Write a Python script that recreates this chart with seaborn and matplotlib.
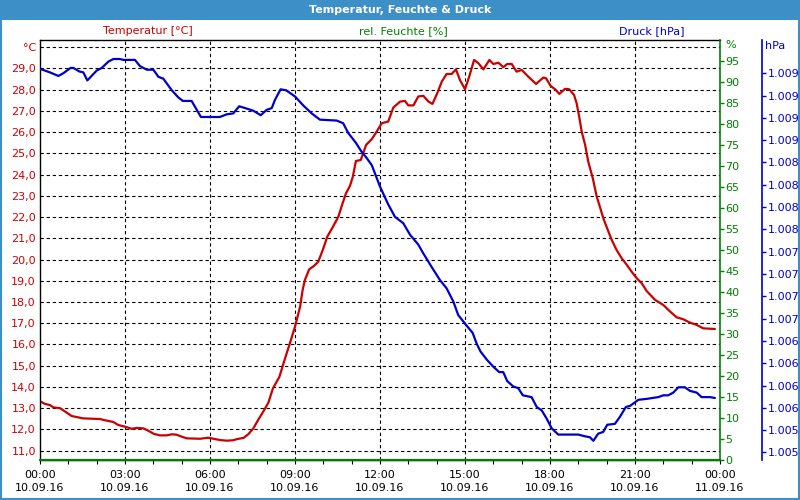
import matplotlib
matplotlib.use("Agg")
import matplotlib.pyplot as plt
from matplotlib.ticker import FixedLocator, FixedFormatter, FuncFormatter
from matplotlib.patches import Rectangle
import seaborn as sns

# ---------------- data ----------------
temp_hours = [0.02, 0.18, 0.35, 0.47, 0.71, 0.94, 1.12, 1.35, 1.53, 2.12, 2.23, 2.59, 2.76, 3.00,
              3.24, 3.41, 3.65, 3.82, 4.02, 4.24, 4.47, 4.65, 4.82, 5.00, 5.18, 5.65, 5.94, 6.12,
              6.35, 6.59, 6.82, 6.94, 7.18, 7.35, 7.53, 7.70, 7.88, 8.06, 8.22, 8.45, 8.65, 8.82,
              9.00, 9.18, 9.27, 9.35, 9.50, 9.67, 9.82, 9.98, 10.14, 10.33, 10.53, 10.68, 10.80,
              10.94, 11.04, 11.15, 11.32, 11.51, 11.71, 11.88, 12.06, 12.29, 12.47, 12.71, 12.88,
              13.00, 13.18, 13.35, 13.53, 13.71, 13.85, 14.02, 14.18, 14.35, 14.53, 14.68, 14.82,
              15.00, 15.15, 15.32, 15.47, 15.65, 15.86, 16.00, 16.18, 16.35, 16.49, 16.65, 16.82,
              17.00, 17.23, 17.51, 17.76, 17.86, 18.02, 18.18, 18.33, 18.53, 18.68, 18.85, 18.94,
              19.03, 19.12, 19.24, 19.35, 19.51, 19.65, 19.76, 19.88, 20.04, 20.18, 20.35, 20.53,
              20.71, 20.88, 21.06, 21.24, 21.41, 21.71, 22.00, 22.24, 22.47, 22.70, 22.94, 23.18,
              23.41, 23.82]
temp_c = [13.31, 13.20, 13.15, 13.04, 13.00, 12.79, 12.63, 12.57, 12.52, 12.49, 12.45, 12.35, 12.21,
          12.13, 12.03, 12.07, 12.05, 11.94, 11.79, 11.72, 11.72, 11.77, 11.75, 11.66, 11.58, 11.56,
          11.61, 11.56, 11.50, 11.47, 11.49, 11.54, 11.60, 11.77, 12.05, 12.45, 12.84, 13.26, 13.93,
          14.48, 15.35, 16.06, 16.84, 17.78, 18.57, 19.04, 19.54, 19.70, 19.90, 20.45, 21.08, 21.52,
          22.02, 22.65, 23.12, 23.47, 23.90, 24.64, 24.69, 25.40, 25.67, 26.02, 26.42, 26.50, 27.16,
          27.44, 27.47, 27.26, 27.26, 27.68, 27.71, 27.44, 27.33, 27.83, 28.38, 28.74, 28.74, 28.96,
          28.46, 28.02, 28.62, 29.40, 29.25, 28.96, 29.40, 29.21, 29.27, 29.06, 29.21, 29.21, 28.85,
          28.93, 28.62, 28.27, 28.57, 28.54, 28.18, 28.02, 27.80, 28.04, 28.02, 27.75, 27.36, 26.73,
          26.02, 25.40, 24.61, 23.83, 22.96, 22.49, 21.95, 21.39, 20.92, 20.45, 20.06, 19.75, 19.43,
          19.12, 18.88, 18.52, 18.10, 17.86, 17.55, 17.28, 17.19, 17.03, 16.92, 16.76, 16.73]

pres_hours = [0.00, 0.35, 0.65, 0.82, 1.08, 1.18, 1.39, 1.53, 1.67, 2.00, 2.18, 2.41, 2.59, 2.82,
              2.94, 3.35, 3.53, 3.77, 4.00, 4.18, 4.35, 4.65, 4.88, 5.04, 5.35, 5.68, 6.35, 6.59,
              6.82, 7.03, 7.24, 7.53, 7.79, 8.00, 8.18, 8.29, 8.49, 8.68, 8.82, 9.00, 9.29, 9.59,
              9.88, 10.47, 10.70, 10.88, 11.15, 11.33, 11.53, 11.71, 12.00, 12.29, 12.53, 12.82,
              13.06, 13.35, 13.53, 13.82, 14.12, 14.35, 14.59, 14.76, 15.06, 15.27, 15.41, 15.55,
              15.77, 16.00, 16.21, 16.35, 16.49, 16.70, 16.88, 17.04, 17.35, 17.53, 17.71, 17.88,
              18.06, 18.29, 19.00, 19.24, 19.41, 19.53, 19.70, 19.88, 20.02, 20.29, 20.47, 20.68,
              20.82, 21.12, 21.41, 21.82, 22.00, 22.17, 22.35, 22.53, 22.76, 22.94, 23.18, 23.35,
              23.65, 23.82]
pres_hpa = [1009.30, 1009.26, 1009.22, 1009.25, 1009.31, 1009.31, 1009.27, 1009.26, 1009.17, 1009.28,
            1009.31, 1009.38, 1009.41, 1009.41, 1009.40, 1009.40, 1009.33, 1009.29, 1009.29, 1009.21,
            1009.19, 1009.06, 1008.98, 1008.94, 1008.94, 1008.76, 1008.76, 1008.79, 1008.80, 1008.88,
            1008.86, 1008.83, 1008.78, 1008.84, 1008.86, 1008.95, 1009.07, 1009.06, 1009.03, 1008.99,
            1008.89, 1008.80, 1008.73, 1008.72, 1008.69, 1008.58, 1008.47, 1008.38, 1008.30, 1008.22,
            1007.98, 1007.78, 1007.64, 1007.57, 1007.44, 1007.33, 1007.23, 1007.08, 1006.93, 1006.84,
            1006.69, 1006.54, 1006.42, 1006.34, 1006.22, 1006.13, 1006.04, 1005.96, 1005.90, 1005.90,
            1005.80, 1005.74, 1005.72, 1005.64, 1005.62, 1005.51, 1005.47, 1005.38, 1005.27, 1005.20,
            1005.20, 1005.18, 1005.17, 1005.13, 1005.21, 1005.23, 1005.31, 1005.32, 1005.40, 1005.51,
            1005.52, 1005.59, 1005.60, 1005.62, 1005.64, 1005.64, 1005.67, 1005.73, 1005.73, 1005.69,
            1005.67, 1005.62, 1005.62, 1005.61]

hum_hours = [0.0, 24.0]
hum_pct = [0.0, 0.0]

x_tick_hours = [0, 3, 6, 9, 12, 15, 18, 21, 24]
x_tick_labels = ["00:00\n10.09.16", "03:00\n10.09.16", "06:00\n10.09.16", "09:00\n10.09.16",
                 "12:00\n10.09.16", "15:00\n10.09.16", "18:00\n10.09.16", "21:00\n10.09.16",
                 "00:00\n11.09.16"]
x_minor_hours = [1, 2, 4, 5, 7, 8, 10, 11, 13, 14, 16, 17, 19, 20, 22, 23]
temp_ticks = [11, 12, 13, 14, 15, 16, 17, 18, 19, 20, 21, 22, 23, 24, 25, 26, 27, 28, 29, 30]
temp_tick_labels = ["11,0", "12,0", "13,0", "14,0", "15,0", "16,0", "17,0", "18,0", "19,0", "20,0",
                    "21,0", "22,0", "23,0", "24,0", "25,0", "26,0", "27,0", "28,0", "29,0", "°C"]
hum_ticks = [0, 5, 10, 15, 20, 25, 30, 35, 40, 45, 50, 55, 60, 65, 70, 75, 80, 85, 90, 95]
pres_ticks = [1005.0, 1005.25, 1005.5, 1005.75, 1006.0, 1006.25, 1006.5, 1006.75, 1007.0,
              1007.25, 1007.5, 1007.75, 1008.0, 1008.25, 1008.5, 1008.75, 1009.0, 1009.25]

title = "Temperatur, Feuchte & Druck"
series_titles = ["Temperatur [°C]", "rel. Feuchte [%]", "Druck [hPa]"]

RED = "#cc0000"
GREEN = "#008000"
BLUE = "#0000cc"
BAR = "#3d8fc8"

# ---------------- style ----------------
sns.set_theme(style="white")
plt.rcParams["font.family"] = ["DejaVu Sans"]
plt.rcParams["font.size"] = 8

fig = plt.figure(figsize=(8, 5), dpi=100)
fig.patch.set_facecolor("white")

ax = fig.add_axes([40 / 800, 40 / 500, 680 / 800, 420 / 500])
ax.set_facecolor("white")
ax_h = ax.twinx()
ax_p = ax.twinx()
ax_p.spines["right"].set_position(("axes", (762 - 40) / 680))

# lines
sns.lineplot(x=temp_hours, y=temp_c, ax=ax, color=RED, linewidth=1.6,
             estimator=None, sort=False, legend=False)
sns.lineplot(x=pres_hours, y=pres_hpa, ax=ax_p, color=BLUE, linewidth=1.6,
             estimator=None, sort=False, legend=False)
sns.lineplot(x=hum_hours, y=hum_pct, ax=ax_h, color=GREEN, linewidth=1.6,
             estimator=None, sort=False, legend=False)
for l in ax_h.lines:
    l.set_clip_on(False)

for a in (ax, ax_h, ax_p):
    a.set_xlabel("")
    a.set_ylabel("")
    a.set_xlim(0, 24)

ax.set_ylim(10.56, 30.34)
ax_h.set_ylim(0, 100)
ax_p.set_ylim(1004.915, 1009.623)

# x axis
ax.xaxis.set_major_locator(FixedLocator(x_tick_hours))
ax.xaxis.set_major_formatter(FixedFormatter(x_tick_labels))
ax.xaxis.set_minor_locator(FixedLocator(x_minor_hours))
ax.tick_params(axis="x", which="both", direction="out", length=3, width=0.8,
               color="black", labelcolor="black", labelsize=8, pad=4, bottom=True)
for t in ax.get_xticklabels():
    t.set_linespacing(1.45)

# left axis
ax.yaxis.set_major_locator(FixedLocator(temp_ticks))
ax.yaxis.set_major_formatter(FixedFormatter(temp_tick_labels))
ax.tick_params(axis="y", which="both", length=0, labelcolor=RED, labelsize=8, pad=3, left=True)

# grid
ax.grid(False)
for v in temp_ticks:
    ax.axhline(v, color="black", linewidth=0.8, linestyle=(0, (3, 2.5)), zorder=0.5)
for v in x_tick_hours[1:-1]:
    ax.axvline(v, color="black", linewidth=0.8, linestyle=(0, (3, 2.5)), zorder=0.5)

# humidity axis
ax_h.yaxis.set_major_locator(FixedLocator(hum_ticks))
ax_h.yaxis.set_major_formatter(FuncFormatter(lambda v, p: f"{int(round(v))}"))
ax_h.tick_params(axis="y", direction="out", length=3, width=1, color=GREEN,
                 labelcolor=GREEN, labelsize=8, pad=1, right=True)

# pressure axis
def pfmt(v, p):
    n = int(v + 0.5)
    return f"{n:,}".replace(",", ".")

ax_p.yaxis.set_major_locator(FixedLocator(pres_ticks))
ax_p.yaxis.set_major_formatter(FuncFormatter(pfmt))
ax_p.tick_params(axis="y", direction="out", length=3, width=1, color=BLUE,
                 labelcolor=BLUE, labelsize=8, pad=1, right=True)

# spines
for s in ("left", "top", "bottom"):
    ax.spines[s].set_color("black")
    ax.spines[s].set_linewidth(1)
    ax.spines[s].set_visible(True)
ax.spines["right"].set_visible(False)
for s in ("left", "top", "bottom"):
    ax_h.spines[s].set_visible(False)
    ax_p.spines[s].set_visible(False)
ax_h.spines["right"].set_visible(True)
ax_h.spines["right"].set_color(GREEN)
ax_h.spines["right"].set_linewidth(1.2)
ax_p.spines["right"].set_visible(True)
ax_p.spines["right"].set_color(BLUE)
ax_p.spines["right"].set_linewidth(1.2)

# unit labels at top of right axes
fig.text(725 / 800, 1 - 45 / 500, "%", color=GREEN, fontsize=8, ha="left", va="center")
fig.text(765 / 800, 1 - 46 / 500, "hPa", color=BLUE, fontsize=8, ha="left", va="center")

# series titles
fig.text(148 / 800, 1 - 31 / 500, series_titles[0], color=RED, fontsize=8, ha="center", va="center")
fig.text(403 / 800, 1 - 31 / 500, series_titles[1], color=GREEN, fontsize=8, ha="center", va="center")
fig.text(652 / 800, 1 - 31 / 500, series_titles[2], color=BLUE, fontsize=8, ha="center", va="center")

# title bar & frame
fig.patches.append(Rectangle((0, 1 - 20 / 500), 1, 20 / 500, transform=fig.transFigure,
                             facecolor=BAR, edgecolor="none", zorder=0))
fig.patches.append(Rectangle((0.001, 0.0015), 0.998, 0.997, transform=fig.transFigure,
                             facecolor="none", edgecolor=BAR, linewidth=1.5, zorder=5))
fig.text(0.5, 1 - 10 / 500, title, color="white", fontsize=8, fontweight="bold",
         ha="center", va="center")

fig.savefig("out.png", dpi=100, facecolor="white")
